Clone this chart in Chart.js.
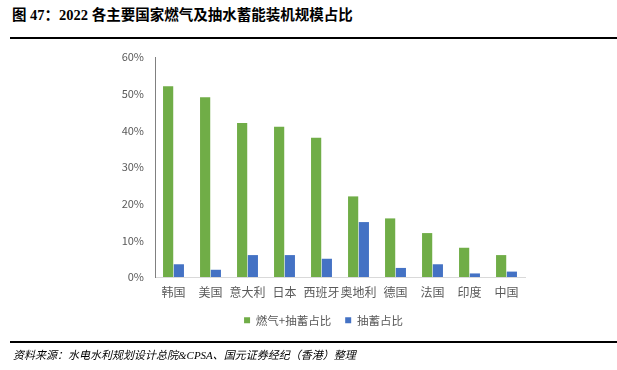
<!DOCTYPE html>
<html><head><meta charset="utf-8">
<script src="https://cdn.jsdelivr.net/npm/chart.js@4"></script>
<style>
html,body{margin:0;padding:0;background:#fff;width:617px;height:370px;overflow:hidden;}
#title{position:absolute;left:12px;top:3px;font-family:"Liberation Serif","Noto Sans CJK SC";font-weight:bold;font-size:14.5px;color:#000;white-space:nowrap;}
.rule{position:absolute;left:10px;right:0;height:2px;background:#000;}
#src{position:absolute;left:13px;top:346px;font-family:"Liberation Serif","Noto Sans CJK SC";font-style:italic;font-size:11px;color:#000;white-space:nowrap;}
#c{position:absolute;left:0;top:0;}
</style></head><body>
<div id="title">图 47：2022 各主要国家燃气及抽水蓄能装机规模占比</div>
<div class="rule" style="top:37px"></div>
<div class="rule" style="top:341px"></div>
<canvas id="c" width="617" height="370"></canvas>
<div id="src">资料来源：水电水利规划设计总院&amp;CPSA、国元证券经纪（香港）整理</div>
<script>
const categories = ["韩国","美国","意大利","日本","西班牙","奥地利","德国","法国","印度","中国"];
const gasPumped = [52, 49, 42, 41, 38, 22, 16, 12, 8, 6];
const pumped = [3.5, 2, 6, 6, 5, 15, 2.5, 3.5, 1, 1.5];
const seriesNames = ["燃气+抽蓄占比","抽蓄占比"];
const yTicks = [0,10,20,30,40,50,60];

const font = {family:'"Noto Sans CJK SC", sans-serif', size:12};
const moveLegend = {
  id:'moveLegend',
  afterLayout(chart){ const l = chart.legend; if(l){ l.top -= 7; l.bottom -= 7; l.left += 11; l.right += 11; } }
};
new Chart(document.getElementById('c'), {
  type:'bar',
  data:{labels:categories, datasets:[
    {label:seriesNames[0], data:gasPumped, backgroundColor:'#70AD47', categoryPercentage:0.58, barPercentage:0.95},
    {label:seriesNames[1], data:pumped, backgroundColor:'#4472C4', categoryPercentage:0.58, barPercentage:0.95}
  ]},
  plugins:[moveLegend],
  options:{
    responsive:false, animation:false,
    layout:{padding:{left:100, right:92, top:57, bottom:27}},
    plugins:{
      legend:{position:'bottom', labels:{boxWidth:6, boxHeight:6, font:{...font,size:11.5}, color:'#595959', padding:14}},
      tooltip:{enabled:false}
    },
    scales:{
      x:{grid:{display:false, drawTicks:false}, border:{color:'#D9D9D9', width:1},
         ticks:{font:font, color:'#595959', padding:8, maxRotation:0, autoSkip:false}},
      y:{min:0, max:60, afterBuildTicks:s=>{s.ticks=yTicks.map(v=>({value:v}));},
         afterFit:s=>{s.width=55;},
         grid:{display:false, drawTicks:false},
         border:{color:'#808080', width:1},
         ticks:{font:{...font,size:11}, color:'#595959', padding:11, callback:v=>v+'%'}}
    }
  }
});
</script>
</body></html>
